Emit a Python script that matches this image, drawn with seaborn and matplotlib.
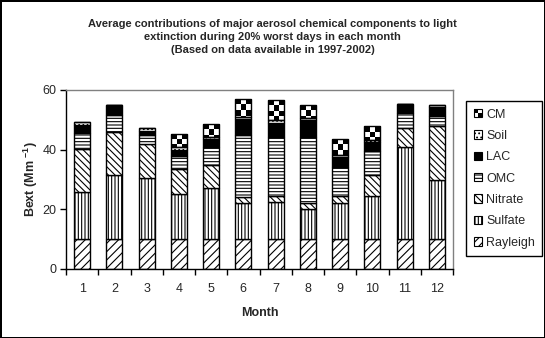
import numpy as np
import pandas as pd
import matplotlib
matplotlib.use("Agg")
import matplotlib.pyplot as plt
import seaborn as sns
from matplotlib.patches import Rectangle, Patch
from matplotlib.legend_handler import HandlerBase

# ---------------- data ----------------
months = [str(i) for i in range(1, 13)]
rayleigh = [10.0, 10.0, 10.0, 10.0, 10.0, 10.0, 10.0, 10.0, 10.0, 10.0, 10.0, 10.0]
sulfate = [15.8, 21.6, 20.6, 15.0, 17.0, 12.2, 12.5, 10.2, 12.2, 14.5, 31.0, 19.8]
nitrate = [14.4, 14.2, 11.3, 8.5, 7.8, 1.8, 1.9, 1.8, 2.2, 6.8, 6.1, 18.2]
omc = [5.4, 5.8, 3.0, 4.3, 6.2, 20.8, 19.8, 22.2, 9.6, 8.3, 5.2, 3.2]
lac = [2.8, 3.2, 1.3, 1.9, 2.5, 5.5, 4.7, 5.6, 3.4, 3.0, 3.1, 3.1]
soil = [0.8, 0.0, 1.1, 1.2, 0.7, 0.8, 1.1, 0.7, 0.7, 0.7, 0.0, 0.8]
cm = [0.0, 0.0, 0.0, 4.4, 4.3, 5.9, 6.7, 4.3, 5.3, 4.5, 0.0, 0.0]

component_names = ["Rayleigh", "Sulfate", "Nitrate", "OMC", "LAC", "Soil", "CM"]
yticks = [0, 20, 40, 60]
title = ("Average contributions of major aerosol chemical components to light\n"
         "extinction during 20% worst days in each month\n"
         "(Based on data available in 1997-2002)")

# ---------------- style ----------------
sns.set_style("white")
plt.rcParams["font.family"] = ["Liberation Sans", "DejaVu Sans"]
plt.rcParams["hatch.linewidth"] = 0.8
plt.rcParams["mathtext.fontset"] = "custom"
plt.rcParams["mathtext.rm"] = "Liberation Sans"
plt.rcParams["mathtext.bf"] = "Liberation Sans:bold"

W, H = 545, 338
fig = plt.figure(figsize=(W / 100, H / 100), dpi=100)
fig.patch.set_facecolor("white")
fig.patch.set_edgecolor("black")
fig.patch.set_linewidth(2)

x0, x1, y0, y1 = 66, 453, 268.7, 90
ax = fig.add_axes([x0 / W, (H - y0) / H, (x1 - x0) / W, (y0 - y1) / H])
ax.set_xlim(-0.5, 11.5)
ax.set_ylim(0, 60)

df = pd.DataFrame({"Month": months, "Rayleigh": rayleigh, "Sulfate": sulfate,
                   "Nitrate": nitrate, "OMC": omc, "LAC": lac, "Soil": soil, "CM": cm})

styles = {
    "Rayleigh": dict(color="white", hatch="////"),
    "Sulfate": dict(color="white", hatch="|||||"),
    "Nitrate": dict(color="white", hatch="\\\\\\\\\\"),
    "OMC": dict(color="white", hatch="-----"),
    "LAC": dict(color="black", hatch=None),
    "Soil": dict(color="white", hatch="...."),
    "CM": dict(color="white", hatch=None),
}

bottom = np.zeros(len(months))
containers = {}
for name in component_names:
    st = styles[name]
    kw = dict(x="Month", y=name, data=df, ax=ax, color=st["color"], saturation=1,
              width=0.5, edgecolor="black", linewidth=1, errorbar=None,
              bottom=bottom.copy(), order=months)
    if st["hatch"]:
        kw["hatch"] = st["hatch"]
    sns.barplot(**kw)
    containers[name] = ax.containers[-1]
    bottom = bottom + np.asarray(df[name], dtype=float)

ax.set_xlim(-0.5, 11.5)
ax.set_ylim(0, 60)

# checkerboard texture for CM, clipped to each CM bar
fig.canvas.draw()
px_per_y = ax.transData.transform((0, 1))[1] - ax.transData.transform((0, 0))[1]
for p in containers["CM"]:
    h = p.get_height()
    if h <= 0:
        continue
    bx, by, bw = p.get_x(), p.get_y(), p.get_width()
    nx = 3
    cell_px = (ax.transData.transform((bw, 0))[0] - ax.transData.transform((0, 0))[0]) / nx
    cell_y = cell_px / px_per_y
    ny = int(np.ceil(h / cell_y)) + 1
    checker = (np.add.outer(np.arange(ny), np.arange(nx)) % 2).astype(float)
    top = by + h
    im = ax.imshow(checker, cmap="gray", vmin=0, vmax=1, interpolation="nearest",
                   extent=[bx, bx + bw, top - ny * cell_y, top], origin="upper",
                   aspect="auto", zorder=p.get_zorder() - 0.01)
    im.set_clip_path(p)
    p.set_facecolor("none")

ax.set_xlim(-0.5, 11.5)
ax.set_ylim(0, 60)

# ---------------- axes cosmetics ----------------
for s in ["left", "bottom"]:
    ax.spines[s].set_color("black")
    ax.spines[s].set_linewidth(1)
for s in ["top", "right"]:
    ax.spines[s].set_color("#808080")
    ax.spines[s].set_linewidth(1)
    ax.spines[s].set_visible(True)

ax.set_yticks(yticks)
ax.set_yticklabels([str(v) for v in yticks], fontsize=9)
ax.tick_params(axis="y", direction="out", length=4, width=1, color="black", pad=3, left=True)
ax.set_xticks(range(len(months)))
ax.set_xticklabels(months, fontsize=9)
ax.set_xticks(np.arange(-0.5, 12, 1), minor=True)
ax.tick_params(axis="x", which="major", length=0, pad=10)
ax.tick_params(axis="x", which="minor", direction="out", length=4, width=1, color="black", bottom=True)

ax.set_xlabel("Month", fontsize=9, fontweight="bold", labelpad=9)
ax.set_ylabel(r"Bext (Mm $^{\mathbf{-1}}$)", fontsize=9, fontweight="bold", labelpad=2)

fig.text(0.5, 1 - 37 / H, title, ha="center", va="center", fontsize=8,
         fontweight="bold", linespacing=1.4)

# ---------------- legend ----------------
class CheckerHandler(HandlerBase):
    def create_artists(self, legend, orig_handle, xdescent, ydescent, width, height,
                       fontsize, trans):
        x, y = -xdescent, -ydescent
        arts = [Rectangle((x, y), width, height, facecolor="white", edgecolor="black",
                          lw=0.8, transform=trans)]
        arts.append(Rectangle((x, y + height / 2), width / 2, height / 2,
                              facecolor="black", edgecolor="none", transform=trans))
        arts.append(Rectangle((x + width / 2, y), width / 2, height / 2,
                              facecolor="black", edgecolor="none", transform=trans))
        return arts

handles, labels = [], []
cm_handle = Patch(facecolor="white", edgecolor="black")
for name in reversed(component_names):
    st = styles[name]
    if name == "CM":
        handles.append(cm_handle)
    else:
        handles.append(Patch(facecolor=st["color"], edgecolor="black", lw=0.8,
                             hatch=st["hatch"]))
    labels.append(name)

leg = fig.legend(handles, labels, loc="upper left",
                 bbox_to_anchor=(466 / W, 1 - 101 / H),
                 bbox_transform=fig.transFigure, fontsize=9, frameon=True,
                 fancybox=False, framealpha=1, edgecolor="black",
                 handlelength=0.65, handleheight=0.65, handletextpad=0.35,
                 labelspacing=0.75, borderpad=0.6, borderaxespad=0,
                 handler_map={cm_handle: CheckerHandler()})
leg.get_frame().set_linewidth(1)

fig.savefig("out.png", dpi=100, facecolor="white", edgecolor="black")
